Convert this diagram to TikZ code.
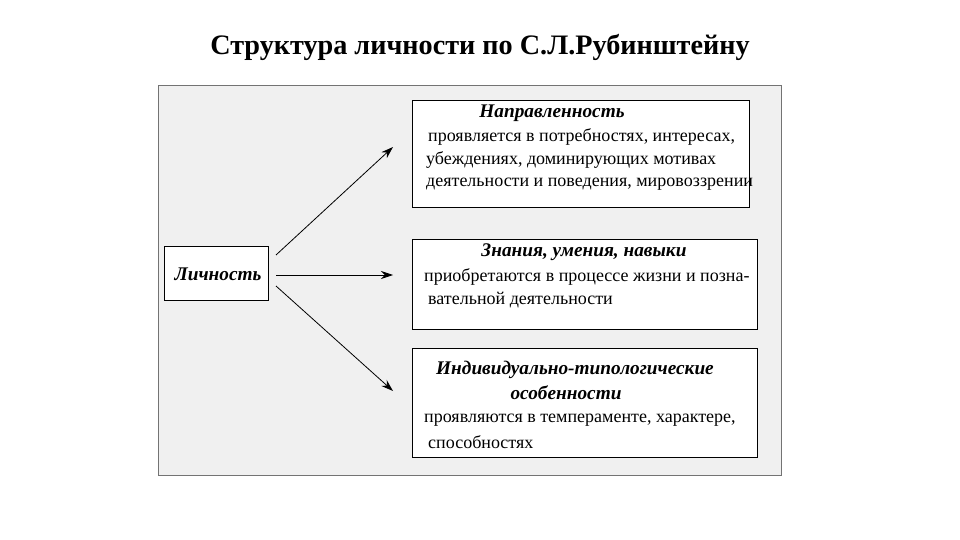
\documentclass[tikz,border=0pt]{standalone}
\usepackage{fontspec}
\setmainfont{Liberation Serif}
\usetikzlibrary{arrows.meta}
\begin{document}
\begin{tikzpicture}[x=1pt,y=-1pt,
  panel/.style={draw=black!55,fill=black!6,line width=0.8pt},
  box/.style={draw=black,fill=white,line width=0.9pt,inner sep=0pt},
  head/.style={font=\fontsize{19.3}{23}\selectfont\bfseries\itshape,inner sep=0pt,align=center},
  body/.style={font=\fontsize{18}{23.5}\selectfont,inner sep=0pt,anchor=west},
  arr/.style={line width=0.8pt,-{Stealth[length=12pt,width=8pt]}}]
\useasboundingbox (0,0) rectangle (960,540);
\fill[white] (0,0) rectangle (960,540);
\node[font=\fontsize{28.2}{32}\selectfont\bfseries] (title) at (480,47) {Структура личности по С.Л.Рубинштейну};
\draw[panel] (158,85) rectangle (781,475);
% boxes
\node[box,minimum width=104pt,minimum height=54pt] (lich) at (216,273) {};
\node[head] (lichT) at (218,274) {Личность};
\draw[box] (412,100) rectangle (749,207);
\draw[box] (412,239) rectangle (757,329);
\draw[box] (412,348) rectangle (757,457);
% box 1
\node[head] (h1) at (552,113) {Направленность};
\node[body] (b1a) at (428,137) {проявляется в потребностях, интересах,};
\node[body] (b1b) at (426,160) {убеждениях, доминирующих мотивах};
\node[body] (b1c) at (426,184) {деятельности и поведения, мировоззрении};
% box 2
\node[head] (h2) at (584,252) {Знания, умения, навыки};
\node[body] (b2a) at (424,277) {приобретаются в процессе жизни и позна-};
\node[body] (b2b) at (428,300) {вательной деятельности};
% box 3
\node[head] (h3a) at (575,370) {Индивидуально-типологические};
\node[head] (h3b) at (566,393) {особенности};
\node[body] (b3a) at (424,420) {проявляются в темпераменте, характере,};
\node[body] (b3b) at (428,442) {способностях};
% arrows
\coordinate (e1) at (393,147);
\coordinate (e2) at (393,275);
\coordinate (e3) at (393,391);
\coordinate (s1) at (276,255);
\coordinate (s2) at (276,275);
\coordinate (s3) at (276,286);
\draw[arr] (s1) -- (e1);
\draw[arr] (s2) -- (e2);
\draw[arr] (s3) -- (e3);
\end{tikzpicture}
\end{document}
